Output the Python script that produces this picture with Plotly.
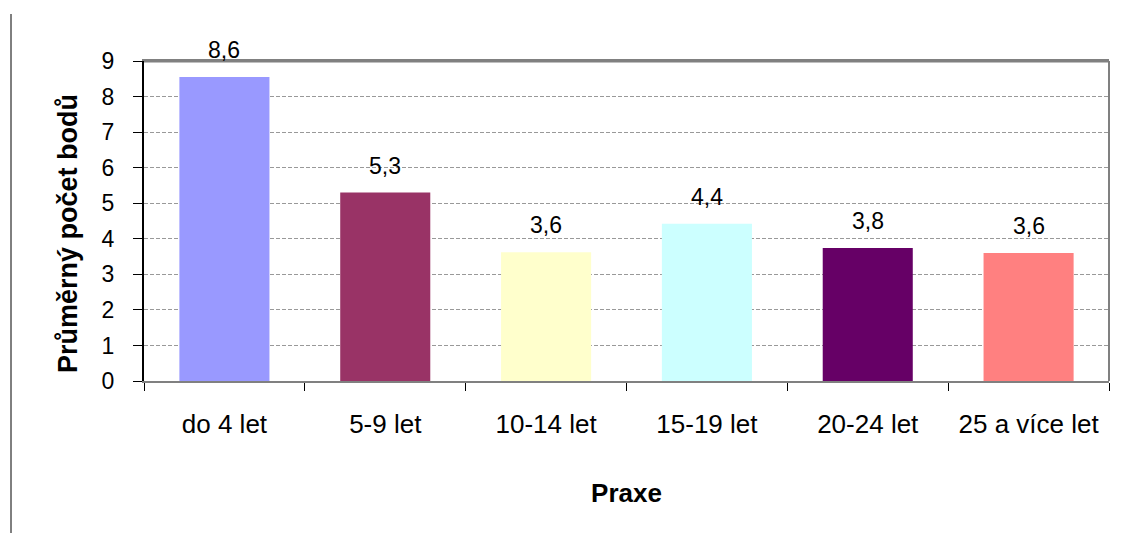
import plotly.graph_objects as go

categories = ["do 4 let", "5-9 let", "10-14 let", "15-19 let", "20-24 let", "25 a více let"]
values = [8.55, 5.3, 3.62, 4.42, 3.74, 3.6]
value_labels = ["8,6", "5,3", "3,6", "4,4", "3,8", "3,6"]
colors = ["#9999FF", "#993366", "#FFFFCC", "#CCFFFF", "#660066", "#FF8080"]
y_ticks = [0, 1, 2, 3, 4, 5, 6, 7, 8, 9]
y_title = "Průměrný počet bodů"
x_title = "Praxe"

font_family = "Liberation Sans, Arial, sans-serif"

fig = go.Figure(go.Bar(
    x=categories, y=values, marker=dict(color=colors, line=dict(width=0)),
    hoverinfo="x+y",
))

for c, v, t in zip(categories, values, value_labels):
    fig.add_annotation(x=c, y=v, text=t, showarrow=False, yanchor="bottom",
                       yshift=12, font=dict(size=23, color="black", family=font_family))

fig.add_annotation(xref="paper", yref="paper", x=(68 - 144) / 965, y=(381 - 234) / 320,
                   text="<b>" + y_title + "</b>", textangle=-90, showarrow=False,
                   xanchor="center", yanchor="middle",
                   font=dict(size=27, color="black", family=font_family))

fig.update_layout(
    width=1131, height=534,
    margin=dict(l=144, r=22, t=61, b=153),
    paper_bgcolor="white", plot_bgcolor="white",
    bargap=0.44, showlegend=False,
    font=dict(family=font_family, color="black"),
    xaxis=dict(
        tickson="boundaries", ticks="outside", ticklen=8, tickcolor="black", tickwidth=1,
        showline=True, linecolor="#808080", linewidth=2, mirror=True,
        tickfont=dict(size=26), showgrid=False, ticklabelstandoff=19,
        title=dict(text="<b>" + x_title + "</b>", font=dict(size=26), standoff=46),
    ),
    yaxis=dict(
        range=[0, 9], tickvals=y_ticks, ticks="outside", ticklen=9, tickcolor="black",
        showline=True, linecolor="black", linewidth=2,
        showgrid=True, gridcolor="#999999", griddash="4px,2px", gridwidth=1,
        tickfont=dict(size=23), zeroline=False, ticklabelstandoff=14,
    ),
    shapes=[
        dict(type="line", xref="paper", yref="paper", x0=1, x1=1, y0=0, y1=1,
             line=dict(color="#808080", width=2)),
        dict(type="line", xref="paper", yref="paper", x0=0, x1=1, y0=1, y1=1,
             line=dict(color="#808080", width=3)),
        dict(type="line", xref="paper", yref="paper",
             x0=(11 - 144) / 965, x1=(11 - 144) / 965,
             y0=(381 - 533) / 320, y1=(381 - 14) / 320,
             line=dict(color="black", width=1)),
    ],
)

fig.write_html("out.html")
